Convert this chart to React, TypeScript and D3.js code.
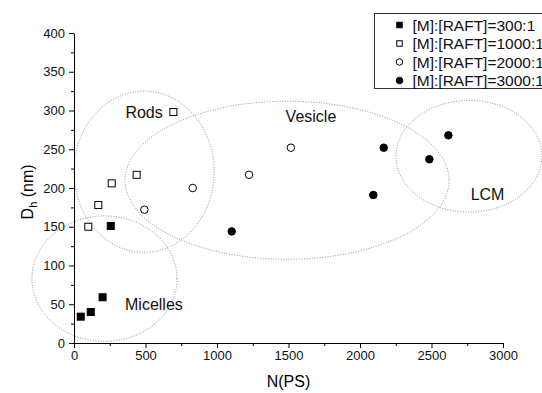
import React, { useEffect, useRef } from 'react';
import * as d3 from 'd3';

// [M]:[RAFT] ratios (legend)
const ratioLabels = ['[M]:[RAFT]=300:1', '[M]:[RAFT]=1000:1', '[M]:[RAFT]=2000:1', '[M]:[RAFT]=3000:1'];

// N(PS) vs Dh for each ratio
const nps300 = [47, 117, 200, 257];
const dh300 = [34, 40, 59, 151];
const nps1000 = [100, 170, 264, 438, 695];
const dh1000 = [150, 178, 206, 217, 298];
const nps2000 = [492, 830, 1224, 1517];
const dh2000 = [172, 200, 217, 252];
const nps3000 = [1103, 2093, 2166, 2485, 2618];
const dh3000 = [144, 191, 252, 237, 268];

// morphology regions (dotted ellipses), in data units
const regionNames = ['Micelles', 'Rods', 'Vesicle', 'LCM'];
const regionCx = [213, 490, 1490, 2762];
const regionCy = [83, 221, 210, 241];
const regionRx = [507, 490, 1133, 510];
const regionRy = [81, 104, 102, 72];
const labelX = [559, 490, 1657, 2892];
const labelY = [42.6, 290, 285.5, 184.5];

const xTicks = [0, 500, 1000, 1500, 2000, 2500, 3000];
const yTicks = [0, 50, 100, 150, 200, 250, 300, 350, 400];

type Marker = 'fsq' | 'osq' | 'oci' | 'fci';
const markers: Marker[] = ['fsq', 'osq', 'oci', 'fci'];

const FONT = 'Liberation Sans, Arial, sans-serif';

const App: React.FC = () => {
  const svgRef = useRef<SVGSVGElement>(null);

  useEffect(() => {
    if (!svgRef.current) return;
    d3.select(svgRef.current).selectAll('*').remove();

    const W = 542;
    const H = 393;
    const margin = { top: 33, right: 39, bottom: 50, left: 74 };
    const width = W - margin.left - margin.right;
    const height = H - margin.top - margin.bottom;

    const root = d3.select(svgRef.current).attr('width', W).attr('height', H);
    root.append('rect').attr('width', W).attr('height', H).attr('fill', 'white');

    const svg = root.append('g').attr('transform', `translate(${margin.left},${margin.top})`);

    const x = d3.scaleLinear().domain([0, 3000]).range([0, width]);
    const y = d3.scaleLinear().domain([0, 400]).range([height, 0]);

    // Region ellipses
    regionNames.forEach((_, i) => {
      svg
        .append('ellipse')
        .attr('cx', x(regionCx[i]))
        .attr('cy', y(regionCy[i]))
        .attr('rx', x(regionRx[i]) - x(0))
        .attr('ry', y(0) - y(regionRy[i]))
        .attr('fill', 'none')
        .attr('stroke', '#8a8a8a')
        .attr('stroke-width', 1)
        .attr('stroke-dasharray', '1,1.6');
    });

    // Axes
    const xAxis = svg
      .append('g')
      .attr('transform', `translate(0,${height})`)
      .call(
        d3
          .axisBottom(x)
          .tickValues(xTicks)
          .tickSize(5)
          .tickSizeOuter(0)
          .tickPadding(3)
          .tickFormat(d3.format('d'))
      );
    svg
      .append('g')
      .attr('transform', `translate(0,${height})`)
      .call(
        d3
          .axisBottom(x)
          .tickValues(d3.range(250, 3000, 500))
          .tickSize(3)
          .tickSizeOuter(0)
          .tickFormat(() => '')
      )
      .select('.domain')
      .remove();
    const yAxis = svg
      .append('g')
      .call(d3.axisLeft(y).tickValues(yTicks).tickSize(5).tickSizeOuter(0).tickPadding(4));
    svg
      .append('g')
      .call(
        d3
          .axisLeft(y)
          .tickValues(d3.range(25, 400, 50))
          .tickSize(3)
          .tickSizeOuter(0)
          .tickFormat(() => '')
      )
      .select('.domain')
      .remove();

    [xAxis, yAxis].forEach(a => {
      a.attr('font-family', FONT).attr('font-size', 13);
      a.selectAll('text').attr('fill', '#111');
      a.selectAll('line, path').attr('stroke', '#000');
    });
    svg.selectAll('.tick line').attr('stroke', '#000');

    // Axis titles
    root
      .append('text')
      .attr('x', margin.left + x(1500))
      .attr('y', 387)
      .attr('text-anchor', 'middle')
      .attr('font-family', FONT)
      .attr('font-size', 16)
      .text('N(PS)');

    const yTitle = root
      .append('text')
      .attr('transform', `translate(33,${margin.top + y(195)}) rotate(-90)`)
      .attr('text-anchor', 'middle')
      .attr('font-family', FONT)
      .attr('font-size', 16);
    yTitle.append('tspan').text('D');
    yTitle.append('tspan').attr('font-size', 11).attr('dy', 4).text('h');
    yTitle.append('tspan').attr('dy', -4).text(' (nm)');

    // Markers
    const drawMarker = (
      g: d3.Selection<SVGGElement, unknown, null, undefined>,
      kind: Marker,
      cx: number,
      cy: number,
      size: number
    ) => {
      const filled = kind === 'fsq' || kind === 'fci';
      if (kind === 'fsq' || kind === 'osq') {
        g.append('rect')
          .attr('x', cx - size / 2)
          .attr('y', cy - size / 2)
          .attr('width', size)
          .attr('height', size)
          .attr('fill', filled ? '#000' : '#fff')
          .attr('stroke', '#000')
          .attr('stroke-width', 1);
      } else {
        g.append('circle')
          .attr('cx', cx)
          .attr('cy', cy)
          .attr('r', size / 2)
          .attr('fill', filled ? '#000' : '#fff')
          .attr('stroke', '#000')
          .attr('stroke-width', 1);
      }
    };

    const seriesX = [nps300, nps1000, nps2000, nps3000];
    const seriesY = [dh300, dh1000, dh2000, dh3000];
    const pts = svg.append('g');
    seriesX.forEach((xs, s) => {
      xs.forEach((v, i) =>
        drawMarker(pts, markers[s], x(v), y(seriesY[s][i]), markers[s].endsWith('sq') ? 7 : 7.5)
      );
    });

    // Region labels
    regionNames.forEach((name, i) => {
      svg
        .append('text')
        .attr('x', x(labelX[i]))
        .attr('y', y(labelY[i]))
        .attr('text-anchor', 'middle')
        .attr('font-family', FONT)
        .attr('font-size', 16)
        .attr('fill', '#111')
        .text(name);
    });

    // Legend (runs off the right edge, as in the original)
    const legend = root.append('g').attr('transform', 'translate(374.5,13.5)');
    legend
      .append('rect')
      .attr('width', 200)
      .attr('height', 75)
      .attr('fill', '#fff')
      .attr('stroke', '#333')
      .attr('stroke-width', 1);
    ratioLabels.forEach((label, i) => {
      const cy = 11.5 + i * 18.5;
      drawMarker(legend, markers[i], 25, cy, markers[i].endsWith('sq') ? 5.5 : 6.5);
      legend
        .append('text')
        .attr('x', 38)
        .attr('y', cy + 5.5)
        .attr('font-family', FONT)
        .attr('font-size', 15.5)
        .attr('fill', '#111')
        .text(label);
    });
  }, []);

  return (
    <div style={{ position: 'absolute', left: 0, top: 0 }}>
      <svg ref={svgRef}></svg>
    </div>
  );
};

export default App;
